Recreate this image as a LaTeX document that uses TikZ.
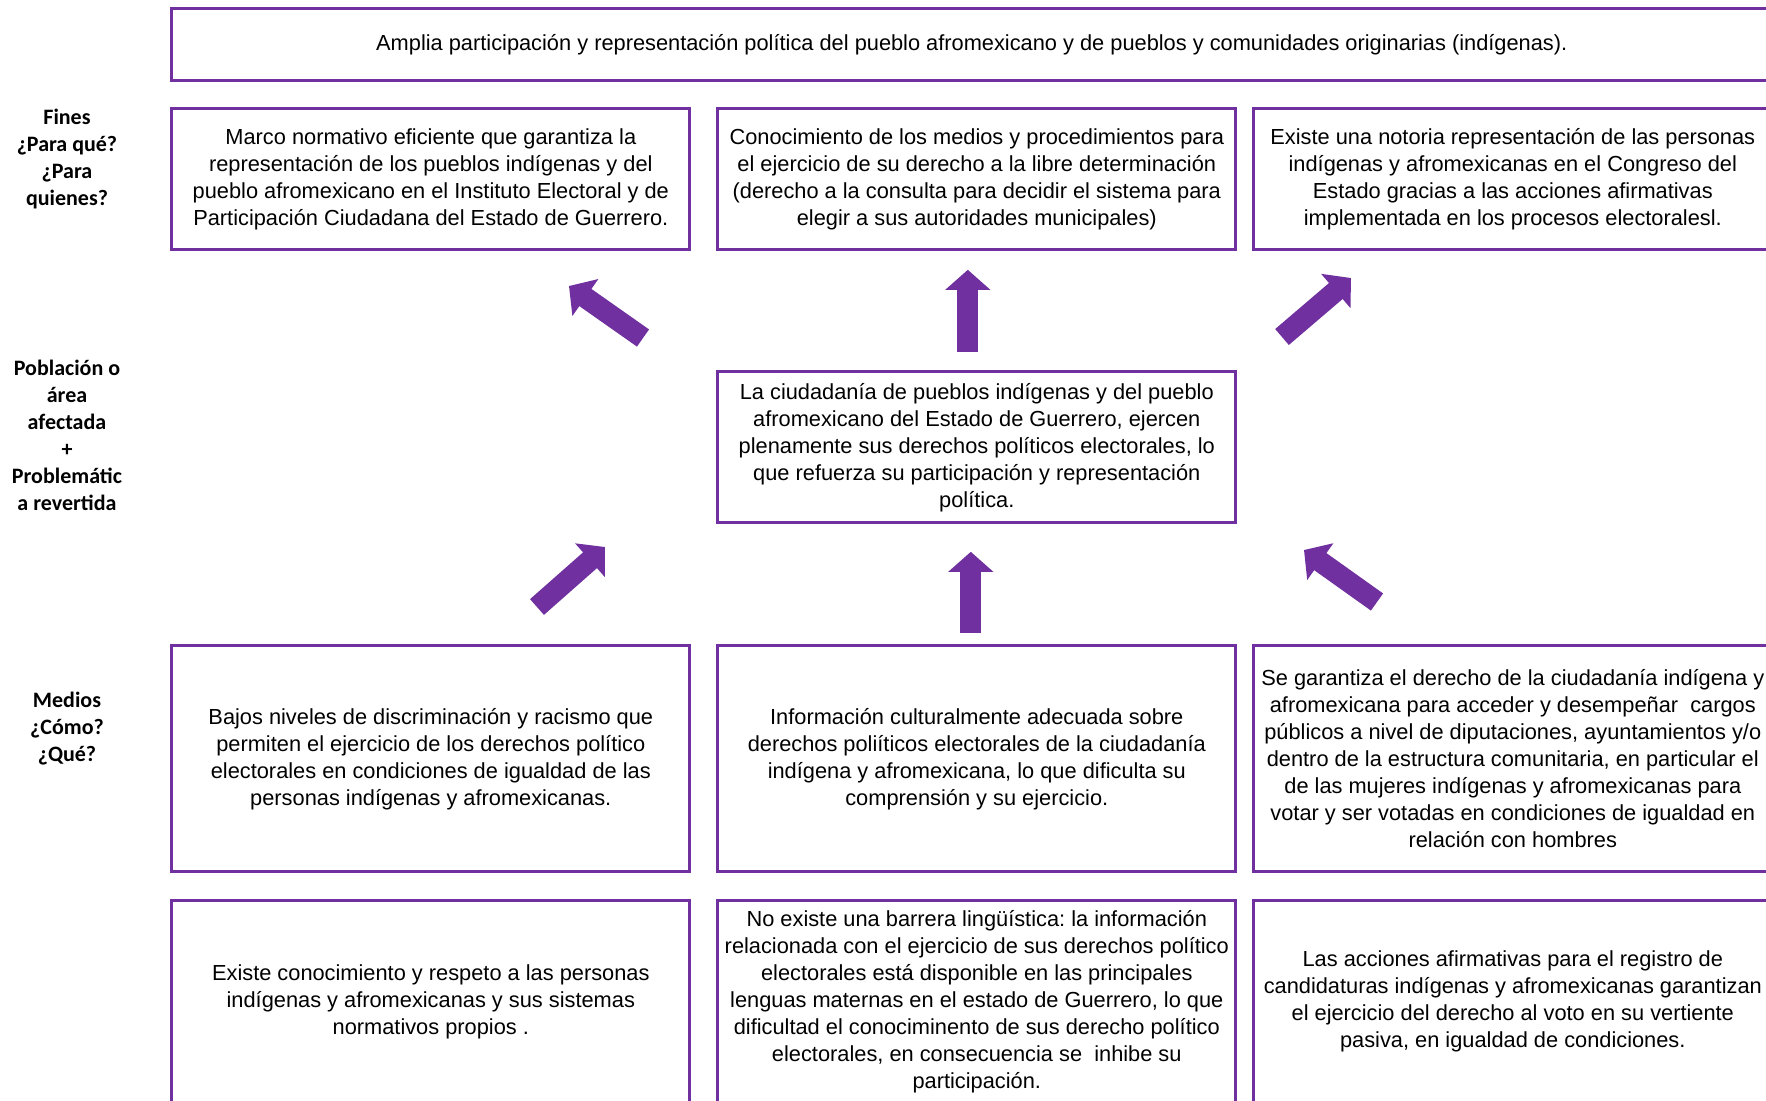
\documentclass[tikz,border=0pt]{standalone}
\usepackage{fontspec}
\setmainfont{Liberation Sans}
\newfontfamily\carlito{Carlito}
\usetikzlibrary{arrows.meta,positioning}
\definecolor{violeta}{HTML}{7030A0}
\frenchspacing

\begin{document}
\begin{tikzpicture}[x=0.5pt,y=-0.5pt]
\tikzstyle{block} = [rectangle, draw=violeta, line width=1.4pt, align=center,
inner sep=2pt, outer sep=0pt, minimum width=259pt, font=\fontsize{10.9pt}{13.5pt}\selectfont]
\tikzstyle{block_fin} = [block, minimum height=70.5pt]
\tikzstyle{block_mid} = [block, minimum height=75.5pt]
\tikzstyle{block_means} = [block, minimum height=113pt]
\tikzstyle{block_base} = [block, minimum height=101pt]
\tikzstyle{block_top} = [block, minimum width=800pt, minimum height=36pt]
\tikzstyle{rowtag} = [align=center, font=\carlito\bfseries\fontsize{11pt}{13.5pt}\selectfont]
\tikzstyle{fat} = [draw=violeta, line width=10.5pt, -{Triangle[width=22pt,length=10pt]}]

\useasboundingbox (0,0) rectangle (1766,1100);
\clip (0,0) rectangle (1766,1100);

\matrix (tree) [anchor=north west, inner sep=0pt, column sep=0pt, row sep=0pt] at (170,107)
{
% row 1: fines
\node [block_fin] (f1) {Marco normativo eficiente que garantiza la\\representación de los pueblos indígenas y del\\pueblo afromexicano en el Instituto Electoral y de\\Participación Ciudadana del Estado de Guerrero.}; &[12.6pt]
\node [block_fin] (f2) {Conocimiento de los medios y procedimientos para\\el ejercicio de su derecho a la libre determinación\\(derecho a la consulta para decidir el sistema para\\elegir a sus autoridades municipales)}; &[7.6pt]
\node [block_fin] (f3) {Existe una notoria representación de las personas\\indígenas y afromexicanas en el Congreso del\\Estado gracias a las acciones afirmativas\\implementada en los procesos electoralesl.}; \\[59.6pt]
% row 2: poblacion
 & \node [block_mid] (prob) {La ciudadanía de pueblos indígenas y del pueblo\\afromexicano del Estado de Guerrero, ejercen\\plenamente sus derechos políticos electorales, lo\\que refuerza su participación y representación\\política.}; & \\[60.1pt]
% row 3: medios
\node [block_means] (m1) {Bajos niveles de discriminación y racismo que\\permiten el ejercicio de los derechos político\\electorales en condiciones de igualdad de las\\personas indígenas y afromexicanas.}; &
\node [block_means] (m2) {Información culturalmente adecuada sobre\\derechos poliíticos electorales de la ciudadanía\\indígena y afromexicana, lo que dificulta su\\comprensión y su ejercicio.}; &
\node [block_means] (m3) {Se garantiza el derecho de la ciudadanía indígena y\\afromexicana para acceder y desempeñar\ \ cargos\\públicos a nivel de diputaciones, ayuntamientos y/o\\dentro de la estructura comunitaria, en particular el\\de las mujeres indígenas y afromexicanas para\\votar y ser votadas en condiciones de igualdad en\\relación con hombres}; \\[13.1pt]
% row 4
\node [block_base] (b1) {Existe conocimiento y respeto a las personas\\indígenas y afromexicanas y sus sistemas\\normativos propios .}; &
\node [block_base] (b2) {No existe una barrera lingüística: la información\\relacionada con el ejercicio de sus derechos político\\electorales está disponible en las principales\\lenguas maternas en el estado de Guerrero, lo que\\dificultad el conociminento de sus derecho político\\electorales, en consecuencia se\ \ inhibe su\\participación.}; &
\node [block_base] (b3) {Las acciones afirmativas para el registro de\\candidaturas indígenas y afromexicanas garantizan\\el ejercicio del derecho al voto en su vertiente\\pasiva, en igualdad de condiciones.}; \\
};

% top box
\node [block_top, above=14pt of f1.north west, anchor=south west] (goal) {Amplia participación y representación política del pueblo afromexicano y de pueblos y comunidades originarias (indígenas).};

% row tags
\node [rowtag] (tfines) at (67,159) {Fines\\¿Para qué?\\¿Para\\quienes?};
\node [rowtag] (tprob) at (67,435) {Población o\\área\\afectada\\+\\Problemátic\\a revertida};
\node [rowtag] (tmedios) at (67,729) {Medios\\¿Cómo?\\¿Qué?};

% arrows
\coordinate (tl0) at (643,338); \coordinate (tl1) at (569,286);
\coordinate (tr0) at (1282,337); \coordinate (tr1) at (1351,278);
\coordinate (bl0) at (537,607); \coordinate (bl1) at (605,547);
\coordinate (br0) at (1377,602); \coordinate (br1) at (1304,550);
\draw [fat] (tl0) -- (tl1);
\draw [fat] ([shift={(-9,-20)}]prob.north) -- ([shift={(-9,20)}]f2.south);
\draw [fat] (tr0) -- (tr1);
\draw [fat] (bl0) -- (bl1);
\draw [fat] ([shift={(-6,-13)}]m2.north) -- ([shift={(-6,29)}]prob.south);
\draw [fat] (br0) -- (br1);

\end{tikzpicture}
\end{document}
